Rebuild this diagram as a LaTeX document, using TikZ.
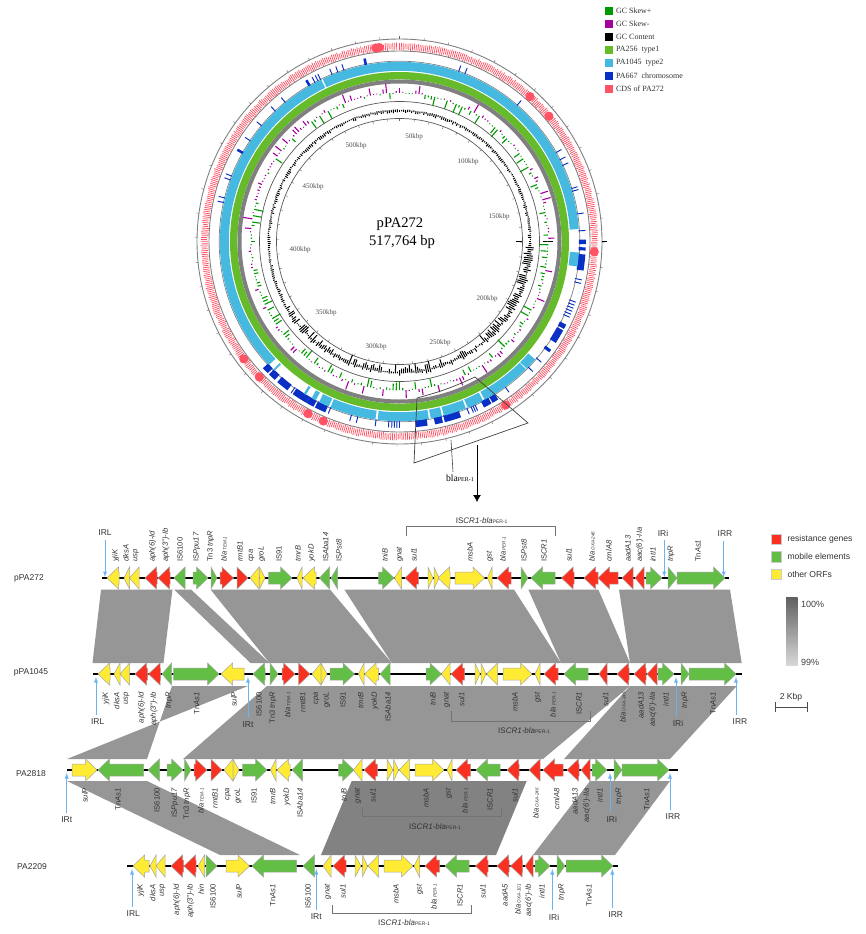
\documentclass[tikz,border=0pt]{standalone}
\usepackage{fontspec}
\setmainfont{Liberation Sans}
\newfontfamily\serifrm{Liberation Serif}
\usetikzlibrary{positioning,arrows.meta}

\definecolor{skewplus}{HTML}{009A00}
\definecolor{skewminus}{HTML}{A3009C}
\definecolor{typeone}{HTML}{66BB2A}
\definecolor{typetwo}{HTML}{45B9E0}
\definecolor{chromo}{HTML}{0A2FC4}
\definecolor{cdsred}{HTML}{FF5365}
\definecolor{ringgray}{HTML}{808080}
\definecolor{bandgray}{HTML}{969696}
\definecolor{banddark}{HTML}{828282}
\definecolor{geneR}{HTML}{FA3020}
\definecolor{geneG}{HTML}{62BE45}
\definecolor{geneY}{HTML}{FFEB33}
\definecolor{irblue}{HTML}{6CB4F0}

\tikzset{
  legbox/.style={minimum size=8.3pt,inner sep=0pt},
  legtext/.style={font=\serifrm\fontsize{8}{9}\selectfont,inner sep=1pt,text=black!80},
  kbp/.style={font=\serifrm\fontsize{7}{8}\selectfont,inner sep=0pt,text=black!70},
  genebox/.style={draw=black!35,line width=.5pt},
  trackline/.style={line width=2.2pt,black},
  toplabel/.style={font=\fontsize{7.6}{8}\selectfont\itshape,rotate=90,anchor=west,inner sep=0pt,text=black!80},
  lowlabel/.style={font=\fontsize{7.6}{8}\selectfont\itshape,rotate=90,anchor=east,inner sep=0pt,text=black!80},
  trackname/.style={font=\fontsize{8.5}{9}\selectfont,inner sep=0pt,text=black!80},
  irtext/.style={font=\fontsize{8.5}{9}\selectfont,inner sep=1pt,text=black!80},
  irarrow/.style={->,irblue,line width=.9pt,shorten <=3pt},
  bracket/.style={black!55,line width=.6pt},
  cassette/.style={font=\fontsize{8}{9}\selectfont,inner sep=0pt,text=black!80},
  zoomline/.style={black!75,line width=.7pt}
}

% one gene: tail x, tip x, track y, colour
\newcommand\gene[4]{%
  \pgfmathsetmacro\headx{#1<#2 ? max(#1,#2-11.5) : min(#1,#2+11.5)}
  \draw[genebox,fill=#4] (#1,#3-6) -- (\headx,#3-6) -- (\headx,#3-11) -- (#2,#3)
    -- (\headx,#3+11) -- (\headx,#3+6) -- (#1,#3+6) -- cycle;
}
% a piece of ring: colour, from, to (clockwise from top), radius, width
\newcommand\ringarc[5]{%
  \draw[#1,line width=#5pt] (90-#2:#4) arc[start angle=90-#2,end angle=90-#3,radius=#4pt];
}
\newcommand\bla[1]{bla{\fontsize{4.6}{5}\selectfont\ #1}}
\newcommand\ISCRbla{IS\textit{CR1-bla}{\fontsize{5}{6}\selectfont PER-1}}

\begin{document}
\begin{tikzpicture}[x=1pt,y=-1pt,>=latex]
\useasboundingbox (0,0) rectangle (865,934);

% ---- circular map
\begin{scope}[shift={(399.5,241.5)},y=1pt]
  \pgfmathsetseed{272}
  % thin circles
  \draw[ringgray,line width=.9pt] (0,0) circle (202.5pt);
  \draw[ringgray,line width=.9pt] (0,0) circle (190.5pt);
  \draw[ringgray,line width=.7pt] (0,0) circle (180.3pt);
  \draw[black!65,line width=.7pt] (0,0) circle (140pt);
  \draw[black!65,line width=.7pt] (0,0) circle (123pt);
  % ticks
  \foreach \a in {0,6.95,...,359}{
    \draw[black!60,line width=.4pt] (90-\a:202.5) -- (90-\a:205);
    \draw[black!60,line width=.4pt] (90-\a:123) -- (90-\a:120.5);
  }
  \foreach \r/\s in {202/207,143/153,116/122}
    \draw[black,line width=.7pt] (0:\r) -- (0:\s);
  % CDS of PA272
  \foreach \a in {0,.55,...,359.6}{
    \pgfmathsetmacro\ri{192.5-1.8*rnd}
    \pgfmathsetmacro\ro{197.3+1.8*rnd}
    \draw[cdsred,line width=.75pt] (90-\a:\ri) -- (90-\a:\ro);
  }
  \foreach \a in {-7,-6,42,50,93,147,203,208,226,233}
    \fill[cdsred] (90-\a:195) circle (4.6pt);
  % PA667 chromosome
  \foreach \a in {-10.8,-30,-60.5}
    \ringarc{chromo}{\a-.4}{\a+.4}{182.8}{7};
  \foreach \a in {-18,-20,-22,-28,-26.9,-26,-39.4,-43.6,-50,-56,-70,-68.7,-77.5,-76,19.2,21.3,40.8,60.4,63,65,72.9,73.8,81.2,86.6,101.9,103,109,110,111,112,113,114,130.4,134.3,144,155.2,155.9,156.6,158,180,180.8,181.6,182.4,183.4,187.5,193.4,195.5,202.5,215.6,227,226.3}
    \ringarc{chromo}{\a-.15}{\a+.15}{182.8}{7};
  \foreach \a/\b in {89.4/90.8,91.8/92.8,94/99,116.5/118,118.5/123,125.5/126.5,148/150,150.4/153,160.7/165.9,166.5/169,171.3/175,203.5/207,207.5/210,210/215,217/221,222/224.5,225/227}
    \ringarc{chromo}{\a}{\b}{182.8}{7};
  % PA1045 type2
  \foreach \a/\b in {-25.3/86,93.5/98,131/135,135.3/151.7,152.3/157.7,158.3/165.7,166.3/170,170.6/187,187.7/202.6,203.2/206.6,207.8/209.3,211.4/212.2,224/224.6,226.6/334.2}
    \ringarc{typetwo}{\a}{\b}{175.2}{9};
  % PA256 type1
  \draw[typeone,line width=7.4pt] (0,0) circle (165.8pt);
  \draw[ringgray,line width=4pt] (0,0) circle (160pt);
  % GC skew
  \foreach \a in {0,1.25,...,359}{
    \pgfmathsetmacro\h{.8+9*rnd^3}
    \pgfmathsetmacro\pick{(\a>260 ? .68 : .36)>rnd ? 1 : 0}
    \pgfmathtruncatemacro\pickint{\pick}
    \ifnum\pickint=1
      \draw[skewminus,line width=1.1pt] (90-\a:148.8) -- (90-\a:148.8+\h);
    \else
      \draw[skewplus,line width=1.1pt] (90-\a:148.8) -- (90-\a:148.8-\h);
    \fi
  }
  % GC content
  \foreach \a in {0,.9,...,359.5}{
    \pgfmathsetmacro\amp{(\a>92 && \a<135) ? 7 : ((\a>135 && \a<240) ? 9*rnd : 2.2)}
    \pgfmathsetmacro\h{.4+\amp*rnd}
    \pgfmathsetmacro\g{.3+.45*\amp*rnd}
    \draw[black,line width=1pt] (90-\a:131+\g) -- (90-\a:131-\h);
  }
\end{scope}

% kbp labels and centre title
\foreach \x/\y/\lab [count=\i] in {414/137/50kbp,468/162/100kbp,499/217/150kbp,487/299/200kbp,440/343/250kbp,376/347/300kbp,326/313/350kbp,300/250/400kbp,313/187/450kbp,356/146/500kbp}
  \node[kbp] (kb\i) at (\x,\y) {\lab};
\node[font=\serifrm\fontsize{14.6}{16}\selectfont,inner sep=0pt] (title1) at (400,224) {pPA272};
\node[font=\serifrm\fontsize{14.6}{16}\selectfont,inner sep=0pt] (title2) at (402,242) {517,764 bp};

% legend of the map
\foreach \y/\col/\lab [count=\i] in {11/skewplus/GC Skew+,24/skewminus/GC Skew-,37/black/GC Content,50/typeone/PA256\ \ type1,63/typetwo/PA1045\ \ type2,76/chromo/PA667\ \ chromosome,89/cdsred/CDS of PA272}{
  \node[legbox,fill=\col] (leg\i) at (609.2,\y) {};
  \node[legtext,right=1.3pt of leg\i] (legt\i) {\lab};
}

% zoomed part of the ring
\coordinate (zm1) at (417,398);
\coordinate (zm2) at (414,463);
\coordinate (zm3) at (528,423);
\coordinate (zm4) at (475,377);
\draw[zoomline] (zm1) -- (zm2) -- (zm3) -- (zm4);
\draw[zoomline] (zm1) to[bend right=5] (zm4);
\node[font=\serifrm\fontsize{9.6}{10}\selectfont,inner sep=0pt] (blalab) at (460,478) {bla{\fontsize{6}{7}\selectfont PER-1}};
\coordinate (blapt) at (451,440);
\coordinate (blaend) at (453,472);
\draw[black!75,line width=.6pt] (blapt) -- (blaend);
\coordinate (down1) at (477,445);
\coordinate (down2) at (477,502);
\draw[-{Latex[length=7pt,width=8pt]},black,line width=.8pt] (down1) -- (down2);

% ---- homology bands
\fill[bandgray] (101,589.5) -- (172.5,589.5) -- (163.5,663) -- (92.5,663) -- cycle;
\fill[bandgray] (174,589.5) -- (191,589.5) -- (269.5,663) -- (250.5,663) -- cycle;
\fill[bandgray] (210.5,589.5) -- (330,589.5) -- (391.7,663) -- (269.5,663) -- cycle;
\fill[bandgray] (344.3,589.5) -- (514,589.5) -- (561,663) -- (391.7,663) -- cycle;
\fill[bandgray] (528.3,589.5) -- (598.3,589.5) -- (630,663) -- (561,663) -- cycle;
\fill[bandgray] (619,589.5) -- (730,589.5) -- (741.7,663) -- (630,663) -- cycle;

\fill[bandgray] (172,686) -- (248,686) -- (67,759) -- (147,759) -- cycle;
\fill[bandgray] (267,686) -- (630,686) -- (543,759) -- (183,759) -- cycle;
\fill[bandgray] (630,686) -- (736.7,686) -- (670,759) -- (564,759) -- cycle;

\fill[bandgray] (67,781) -- (147,781) -- (300,855) -- (220,855) -- cycle;
\fill[banddark] (351.7,781) -- (526.7,781) -- (496,855) -- (321,855) -- cycle;
\fill[bandgray] (590,781) -- (670,781) -- (615,855) -- (533,855) -- cycle;

% ---- pPA272
\node[trackname] (name1) at (29,578) {pPA272};
\coordinate (tr1a) at (102,578);
\coordinate (tr1b) at (729,578);
\draw[trackline] (tr1a) -- (tr1b);
\foreach \a/\b/\col in {119/107/geneY,129.5/124/geneY,139/129.5/geneY,157/145/geneR,170/158/geneR,185/174/geneG,193/208/geneG,211/217/geneG,220/233.5/geneR,237/248/geneR,259/250/geneY,259.5/265/geneY,268.5/292/geneG,302/297/geneY,316/303/geneY,329.5/319.5/geneG,337.5/331/geneG,378.5/394/geneG,401.5/394.5/geneY,418.5/405/geneR,428/433/geneY,434/439/geneY,450/438/geneY,455/484.5/geneY,492/487.5/geneY,511/497/geneR,521/528/geneG,555/531/geneG,574/561.5/geneR,598/584/geneR,618/598/geneR,633/622/geneR,644/635/geneR,646/662/geneG,668/677/geneG,677/725/geneG}
  \gene{\a}{\b}{578}{\col};
\foreach \x/\lab [count=\i] in {115.7/yjiK,126/dksA,136/usp,152.7/aph(6)-Id,166/aph(3'')-Ib,180/\textup{IS6100},196.7/\textup{IS}Ppu17,210.7/\textup{Tn3} tnpR,224/\bla{TEM-1},240/rmtB1,251.7/cpa,261.7/groL,279/\textup{IS91},298/tmrB,311.7/yokD,325.7/\textup{IS}Aba14,339/\textup{IS}Pst8,385/tniB,400/gnat,414/sul1,470/msbA,490/gst,503/\bla{PER-1},524/\textup{IS}Pst8,544/\textup{IS}CR1,569/sul1,592/\bla{OXA-246},609/cmlA8,628/aadA13,640/aac(6')-IIa,653/intI1,671/tnpR,698/\textup{Tn}As1}
  \node[toplabel] (ta\i) at (\x,562) {\lab};

% ---- pPA1045
\node[trackname] (name2) at (31,672) {pPA1045};
\coordinate (tr2a) at (93,674);
\coordinate (tr2b) at (742,674);
\draw[trackline] (tr2a) -- (tr2b);
\foreach \a/\b/\col in {110/98/geneY,120/114/geneY,129.5/120/geneY,147.5/135/geneR,160.5/148.5/geneR,171.5/162/geneG,173.5/219/geneG,244/221/geneY,265/253/geneG,270/278/geneG,282/295/geneR,298.5/310/geneR,321/312/geneY,321/327/geneY,330/354.5/geneG,364/358.5/geneY,378.5/364.5/geneY,390/380/geneG,426/441.5/geneG,450/441.5/geneY,464.5/451/geneR,475/480/geneY,481/486/geneY,497.5/486.5/geneY,503/532/geneY,540/535/geneY,558/544/geneR,588/564/geneG,607/599/geneR,629/617/geneR,646/634/geneR,657/647/geneR,658/674/geneG,681/689/geneG,689/736/geneG}
  \gene{\a}{\b}{674}{\col};
\foreach \x/\lab [count=\i] in {106/yjiK,116.7/dksA,126.7/usp,141.7/aph(6)-Id,154/aph(3'')-Ib,169/tnpR,196.7/\textup{Tn}As1,234/sulP,259/\textup{IS6100},273/\textup{Tn3} tnpR,287.7/\bla{TEM-1},302.7/rmtB1,316.7/cpa,326.7/groL,343/\textup{IS91},360.7/tmrB,375/yokD,388/\textup{IS}Aba14,433/tniB,447/gnat,461.7/sul1,515/msbA,538/gst,553/\bla{PER-1},579/\textup{IS}CR1,605.7/sul1,623/\bla{OXA-246},641/aadA13,653/aac(6')-IIa,666/intI1,685/tnpR,713/\textup{Tn}As1}
  \node[lowlabel] (tb\i) at (\x,692) {\lab};

% ---- PA2818
\node[trackname] (name3) at (31,774) {PA2818};
\coordinate (tr3a) at (66.7,770);
\coordinate (tr3b) at (678,770);
\draw[trackline] (tr3a) -- (tr3b);
\foreach \a/\b/\col in {72/97/geneY,143.5/98/geneG,159.5/148/geneG,167/183/geneG,184.5/191/geneG,194/207/geneR,211/222/geneR,233/224/geneY,233/239/geneY,242.5/267/geneG,276/270.5/geneY,290/277/geneY,302.5/292/geneG,338.5/354/geneG,362/353.5/geneY,377.5/364/geneR,387/393/geneY,393.5/398.5/geneY,409.5/399/geneY,415/444/geneY,452/447/geneY,470.5/456/geneR,500/476/geneG,519/507/geneR,540/529/geneR,563/543/geneR,579/567/geneR,590/581/geneR,592/607/geneG,614/622/geneG,622/669/geneG}
  \gene{\a}{\b}{770}{\col};
\foreach \x/\lab [count=\i] in {85/sulP,118/\textup{Tn}As1,157/\textup{IS6100},175/\textup{IS}Ppu17,187/\textup{Tn3} tnpR,201/\bla{TEM-1},215/rmtB1,228/cpa,238/groL,254/\textup{IS91},272.7/tmrB,287/yokD,300/\textup{IS}Aba14,344/tniB,358/gnat,373/sul1,426/msbA,449/gst,465/\bla{PER-1},490/\textup{IS}CR1,515/sul1,536/\bla{OXA-246},556.7/cmlA8,575/aadA13,587/aac(6')-IIa,600/intI1,619/tnpR,646.7/\textup{Tn}As1}
  \node[lowlabel] (tc\i) at (\x,788) {\lab};

% ---- PA2209
\node[trackname] (name4) at (32,867) {PA2209};
\coordinate (tr4a) at (127,866);
\coordinate (tr4b) at (618,866);
\draw[trackline] (tr4a) -- (tr4b);
\foreach \a/\b/\col in {149/133/geneY,156/150/geneY,165/156/geneY,183.5/171/geneR,196/184/geneR,204.5/198/geneY,206/217/geneG,226/249.5/geneY,296.5/252/geneG,314.5/303/geneG,331/323/geneY,346/333/geneR,355/361/geneY,362.5/367.5/geneY,378.5/368/geneY,384/413/geneY,419.5/414/geneY,439.5/425/geneR,469/445/geneG,488/475.5/geneR,509/497/geneR,522.5/510.5/geneR,533/525/geneR,535/550/geneG,557/565/geneG,566/613/geneG}
  \gene{\a}{\b}{866}{\col};
\foreach \x/\lab [count=\i] in {140.7/yjiK,152.7/dksA,162.7/usp,177/aph(6)-Id,190.7/aph(3'')-Ib,201/hin,213/\textup{IS6100},239/sulP,272.7/\textup{Tn}As1,308/\textup{IS6100},328/gnat,343/sul1,396/msbA,420/gst,434/\bla{PER-1},460/\textup{IS}CR1,483/sul1,505/aadA5,518/\bla{OXA-101},529/aac(6')-Ib,542/intI1,561.7/tnpR,589/\textup{Tn}As1}
  \node[lowlabel] (td\i) at (\x,884) {\lab};

% ---- IR marks, arrows point to the track
\foreach \n/\lab/\tx/\ty/\ax/\ay in {a/IRL/105/533/105/577,b/IRi/663/533/664.3/577,c/IRR/725/533.7/723.7/577}{
  \node[irtext] (ir\n) at (\tx,\ty) {\lab};
  \coordinate (ir\n t) at (\ax,\ay);
  \draw[irarrow] (ir\n.south -| ir\n t) -- (ir\n t);
}
\foreach \n/\lab/\tx/\ty/\ax/\ay in {d/IRL/97.7/722/96/677,e/IRt/248/725/248/677,f/IRi/678/723/676/677,g/IRR/740/721.7/736/677,h/IRt/66.7/820/66.7/773,i/IRi/611.7/819/610/773,j/IRR/673/817/670/773,k/IRL/133.3/914/132/869,l/IRt/316.3/916.7/316.3/869,m/IRi/554/917/552.3/869,o/IRR/615.7/915/612.3/869}{
  \node[irtext] (ir\n) at (\tx,\ty) {\lab};
  \coordinate (ir\n t) at (\ax,\ay);
  \draw[irarrow] (ir\n.north -| ir\n t) -- (ir\n t);
}

% ---- ISCR1 cassettes
\coordinate (bra1) at (406.7,535.7);
\coordinate (bra2) at (555,535.7);
\draw[bracket] (bra1) -- ++(0,-9.7) -| (bra2);
\node[cassette] (cas1) at (481.7,521) {\ISCRbla};
\coordinate (brb1) at (451.7,711);
\coordinate (brb2) at (590,711);
\draw[bracket] (brb1) -- ++(0,10) -| (brb2);
\node[cassette] (cas2) at (524,731) {\ISCRbla};
\coordinate (brc1) at (362.7,807);
\coordinate (brc2) at (501.7,807);
\draw[bracket] (brc1) -- ++(0,9.7) -| (brc2);
\node[cassette] (cas3) at (435,827) {\ISCRbla};
\coordinate (brd1) at (332.3,905);
\coordinate (brd2) at (471,905);
\draw[bracket] (brd1) -- ++(0,8.3) -| (brd2);
\node[cassette] (cas4) at (404,923) {\ISCRbla};

% ---- legend of the genes
\foreach \y/\col/\lab [count=\i] in {539.3/geneR/resistance genes,556.7/geneG/mobile elements,574.3/geneY/other ORFs}{
  \node[minimum size=10.5pt,inner sep=0pt,draw=black!20,line width=.3pt,fill=\col] (key\i) at (776.2,\y) {};
  \node[font=\fontsize{8.6}{9}\selectfont,inner sep=0pt,anchor=west,text=black!80] (keyt\i) at (787.3,\y) {\lab};
}
\shade[top color=black!62,bottom color=black!15] (786,597.7) rectangle (797.7,665.7);
\node[font=\fontsize{9}{10}\selectfont,inner sep=0pt,text=black!75] (pc100) at (812.7,604) {100\%};
\node[font=\fontsize{9}{10}\selectfont,inner sep=0pt,text=black!75] (pc99) at (810,662.7) {99\%};
\node[font=\fontsize{8.6}{9}\selectfont,inner sep=0pt,text=black!80] (kbpbar) at (791,697) {2 Kbp};
\coordinate (sb1) at (775.7,707);
\coordinate (sb2) at (807.7,707);
\draw[black!70,line width=.6pt] (sb1) -- (sb2);
\draw[black!70,line width=.6pt] ([yshift=-5pt]sb1) -- ([yshift=5pt]sb1);
\draw[black!70,line width=.6pt] ([yshift=-5pt]sb2) -- ([yshift=5pt]sb2);
\end{tikzpicture}
\end{document}
